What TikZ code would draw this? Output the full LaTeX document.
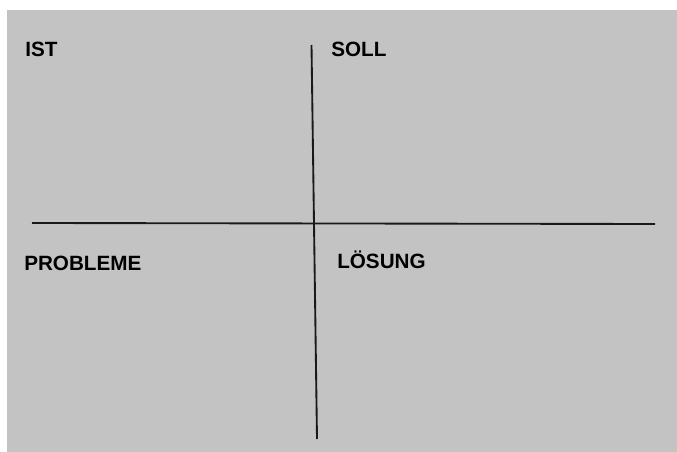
\documentclass[tikz,border=0pt]{standalone}
\usepackage{fontspec}
\setmainfont{Liberation Sans}
\usepackage{xcolor}
\definecolor{boardgray}{RGB}{195,195,195}
\definecolor{pencil}{RGB}{25,25,25}

\begin{document}
\begin{tikzpicture}[x=0.75pt,y=-0.75pt,line join=round,
    label/.style={anchor=base west,inner sep=0pt,font=\bfseries\fontsize{15.5}{17}\selectfont},
    axis/.style={draw=pencil,line width=1.4pt}]
  % page and grey board
  \useasboundingbox (0,0) rectangle (677,452);
  \fill[boardgray] (7,10) rectangle (677,452);
  % the cross
  \coordinate (top) at (311.5,45);
  \coordinate (bottom) at (317,439);
  \coordinate (left) at (32,223);
  \coordinate (right) at (655,224);
  \draw[axis] (top) -- (bottom);
  \draw[axis] (left) -- (right);
  % four quadrant labels
  \node[label] (ist) at (25,57) {IST};
  \node[label] (soll) at (331,57) {SOLL};
  \node[label] (probleme) at (24,270) {PROBLEME};
  \node[label] (loesung) at (337,268) {LÖSUNG};
\end{tikzpicture}
\end{document}
